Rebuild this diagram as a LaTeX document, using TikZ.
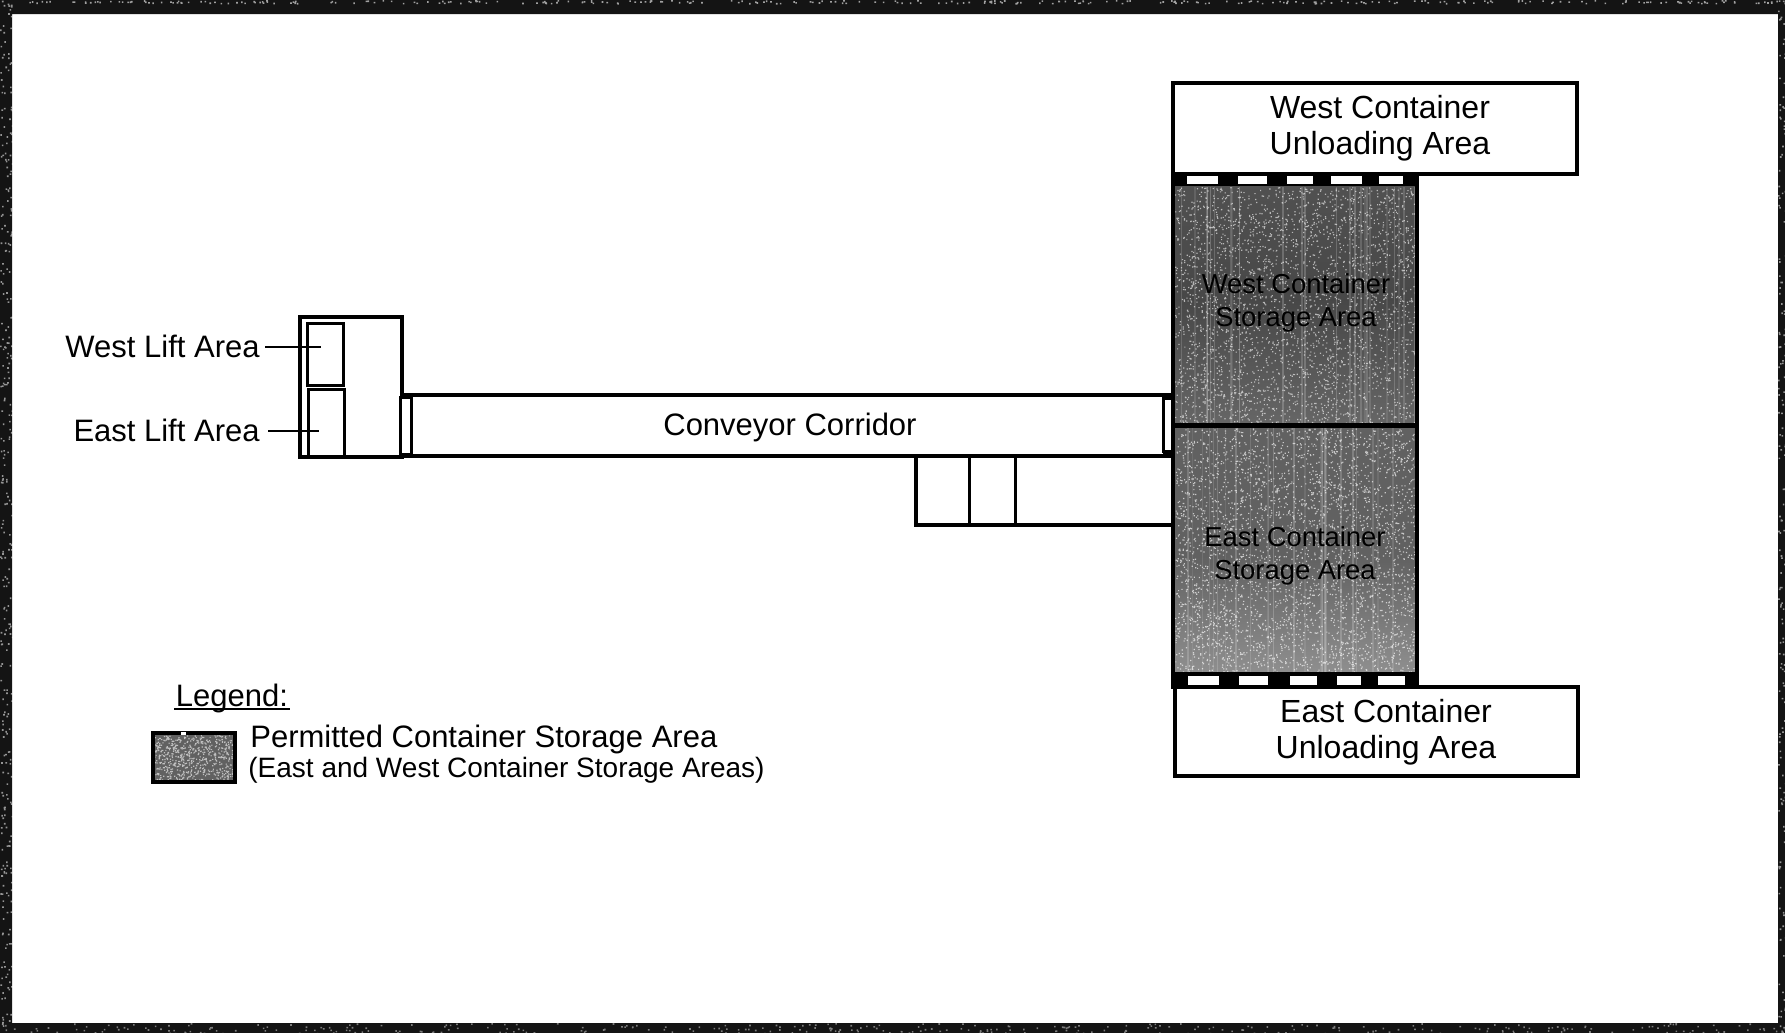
\documentclass[tikz,border=0pt]{standalone}
\usepackage{fontspec}
\setmainfont{Liberation Sans}
\tikzset{
  x=0.5pt,y=-0.5pt,
  wall/.style={draw=black,line width=2pt,fill=white},
  thin wall/.style={draw=black,line width=1.5pt},
  label big/.style={font=\fontsize{16}{18}\selectfont,align=center,inner sep=0pt,text=black},
  label mid/.style={font=\fontsize{15.5}{18}\selectfont,align=center,inner sep=0pt,text=black},
  label store/.style={font=\fontsize{13.7}{16.5}\selectfont,align=center,inner sep=0pt,text=black},
  label small/.style={font=\fontsize{14}{16}\selectfont,inner sep=0pt,anchor=west,text=black},
  gap/.style={fill=white,draw=none},
}
\definecolor{bandc}{gray}{0.08}
\newcommand{\specks}[7]{% x0 y0 w h count opacity size
  \fill[white,opacity=#6] \foreach \i in {1,...,#5}{
    ({#1+#3*rnd},{#2+#4*rnd}) rectangle ++(#7,#7)};
}
\newcommand{\streaks}[4]{% x0 y0 w h
  \foreach \i in {1,...,26}{
    \pgfmathsetmacro{\sx}{#1+#3*rnd}
    \pgfmathsetmacro{\so}{0.08+0.14*rnd}
    \fill[white,opacity=\so] (\sx,#2) rectangle ++(1.5,#4);
  }
}
\begin{document}
\begin{tikzpicture}
\pgfmathsetseed{4242}
\useasboundingbox (0,0) rectangle (1785,1033);
\fill[white] (0,0) rectangle (1785,1033);
% outer frame
\fill[bandc,even odd rule] (0,0) rectangle (1785,1033) (12,14) rectangle (1778,1023);
\specks{0}{0}{12}{1033}{320}{0.55}{1.6}
\specks{1778}{0}{7}{1033}{170}{0.55}{1.6}
\specks{0}{0}{1785}{3}{300}{0.6}{1.6}
\specks{0}{1023}{1785}{10}{340}{0.45}{1.6}

% unloading areas
\draw[wall] (1173,83) rectangle (1577,174);
\draw[wall] (1175,687) rectangle (1578,776);

% storage areas
\shade[top color=black!68,bottom color=black!60,middle color=black!72] (1173,175) rectangle (1417,425);
\shade[top color=black!62,bottom color=black!42,middle color=black!62] (1173,425) rectangle (1417,686);
\streaks{1176}{187}{238}{236}
\streaks{1176}{428}{238}{244}
\specks{1175}{187}{240}{236}{3200}{0.6}{1.2}
\specks{1175}{428}{240}{244}{3600}{0.65}{1.2}
\fill[black] (1173,174) rectangle (1417,186);
\fill[black] (1173,672) rectangle (1417,687);
\foreach \a/\b in {1187/1218,1238/1267,1287/1313,1331/1362,1379/1403}
  \fill[gap] (\a,175) rectangle (\b,184);
\foreach \a/\b in {1188/1219,1239/1268,1290/1317,1337/1361,1378/1405}
  \fill[gap] (\a,676) rectangle (\b,685);
\draw[draw=black,line width=2pt] (1173,174) rectangle (1417,687);
\draw[draw=black,line width=2.5pt] (1173,425) -- (1417,425);

% lift building
\draw[wall] (300,317) rectangle (402,457);
\draw[thin wall] (307,323) rectangle (343,385);
\draw[thin wall] (308,389) rectangle (344,456);

% conveyor corridor
\draw[wall] (402,395) -- (1173,395) -- (1173,456) -- (402,456);
\fill[white] (403,397) rectangle (1171,454);
\draw[thin wall,fill=white] (400,397) rectangle (411,454);
\draw[thin wall,fill=white] (1163,398) rectangle (1172,451);
\fill[black] (1163,394) rectangle (1173,398);
\fill[black] (1163,451) rectangle (1173,456);

% annex under the corridor
\draw[draw=black,line width=1.75pt] (916,456) -- (916,525) -- (1173,525);
\draw[thin wall] (969,456) -- (969,525);
\draw[thin wall] (1015,456) -- (1015,525);

% labels
\node[label big] (wu) at (1380,128.5) {West Container\\Unloading Area};
\node[label big] (eu) at (1386,732.5) {East Container\\Unloading Area};
\node[label store] (ws) at (1296,302.5) {West Container\\Storage Area};
\node[label store] (es) at (1295,556) {East Container\\Storage Area};
\node[label mid] (cc) at (790,427) {Conveyor Corridor};
\node[label mid,anchor=east] (wl) at (260,346) {West Lift Area};
\node[label mid,anchor=east] (el) at (260,430) {East Lift Area};
\coordinate (wle) at (321,347);
\coordinate (ele) at (319,431);
\draw[black,line width=1.1pt] (wl.east)+(5,1) -- (wle);
\draw[black,line width=0.9pt] (el.east)+(8,1) -- (ele);

% legend
\node[label mid] (lg) at (232,698) {Legend:};
\draw[black,line width=0.8pt] (174,709) -- (290,709);
\fill[black!62] (153,733) rectangle (234,781);
\specks{153}{735}{80}{45}{620}{0.6}{1.2}
\draw[black,line width=2.2pt] (153,733) rectangle (235,782);
\fill[white] (181,731.5) rectangle (186,734.5);
\node[label small,font=\fontsize{15.5}{18}\selectfont] (l1) at (250,739) {Permitted Container Storage Area};
\node[label small] (l2) at (248,770) {(East and West Container Storage Areas)};
\end{tikzpicture}
\end{document}
